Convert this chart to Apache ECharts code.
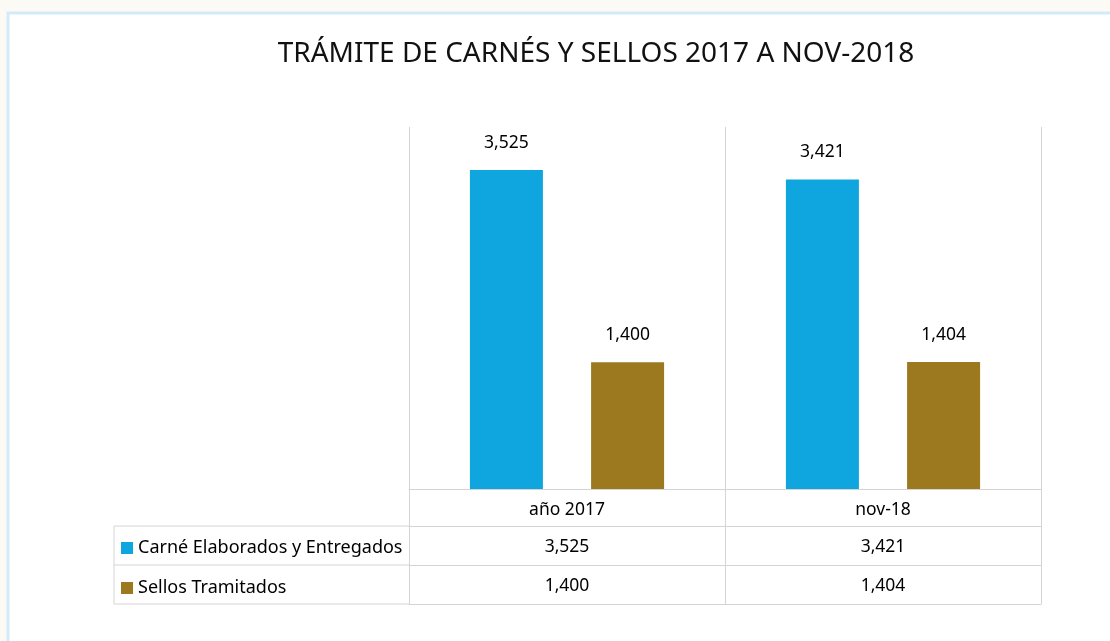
<!DOCTYPE html>
<html lang="es">
<head>
<meta charset="utf-8">
<script src="https://cdn.jsdelivr.net/npm/echarts@6/dist/echarts.min.js"></script>
<style>
  html, body { margin: 0; padding: 0; background: #fbfaf5; }
  #chart { width: 1110px; height: 641px; }
</style>
</head>
<body>
<div id="chart"></div>
<script>
// datos
const categories = ['año 2017', 'nov-18'];
const seriesNames = ['Carné Elaborados y Entregados', 'Sellos Tramitados'];
const carne = [3525, 3421];
const sellos = [1400, 1404];
const colors = ['#0fa5de', '#9c781f'];

const FONT = "'Noto Sans', 'DejaVu Sans', sans-serif";
const LINE = '#d4d4d4';
const GRID_L = 409, GRID_R = 1041, GRID_T = 127, AXIS_Y = 489;
const TABLE_L = 114;
const rows = [37, 39, 39];   // alto de filas de la tabla

const fmt = v => v.toLocaleString('en-US');

let chart = echarts.init(document.getElementById('chart'));

// ejes x apilados = filas de la tabla de datos
function tableAxis(offset, tickLen, values) {
    return {
        type: 'category', gridIndex: 0, position: 'bottom', offset: offset,
        data: categories,
        axisLine: {show: true, lineStyle: {color: LINE, width: 1}},
        axisTick: {show: !!tickLen, length: tickLen, lineStyle: {color: LINE}},
        axisLabel: {
            show: !!values, margin: 12, color: '#000', fontSize: 17.5, fontFamily: FONT,
            formatter: (v, i) => values ? fmt(values[i]) : ''
        },
        splitLine: {show: false}
    };
}

const yTop = AXIS_Y + rows[0];
const y2 = yTop + rows[1];
const y3 = y2 + rows[2];

chart.setOption({
    backgroundColor: '#fbfaf5',
    animation: false,
    title: {
        text: 'TRÁMITE DE CARNÉS Y SELLOS 2017 A NOV-2018',
        left: 591, top: 35, textAlign: 'center',
        textStyle: {fontFamily: FONT, fontWeight: 'normal', fontSize: 28, color: '#111'}
    },
    graphic: [
        {type: 'rect', shape: {x: 8, y: 13, width: 1200, height: 700},
         style: {fill: '#fff', stroke: '#d3ebf8', lineWidth: 3}, z: -10},
        {type: 'line', shape: {x1: TABLE_L, y1: yTop, x2: GRID_L, y2: yTop}, style: {stroke: LINE}},
        {type: 'line', shape: {x1: TABLE_L, y1: y2, x2: GRID_L, y2: y2}, style: {stroke: LINE}},
        {type: 'line', shape: {x1: TABLE_L, y1: y3, x2: GRID_L, y2: y3}, style: {stroke: LINE}},
        {type: 'line', shape: {x1: TABLE_L, y1: yTop, x2: TABLE_L, y2: y3}, style: {stroke: LINE}}
    ],
    legend: {
        orient: 'vertical', left: 116, top: yTop + 8,
        itemWidth: 12, itemHeight: 12, itemGap: 22, icon: 'rect',
        data: seriesNames,
        textStyle: {fontFamily: FONT, fontSize: 18, color: '#000'}
    },
    grid: {left: GRID_L, right: 1110 - GRID_R, top: GRID_T, bottom: 641 - AXIS_Y},
    xAxis: [
        {
            type: 'category', data: categories,
            axisLine: {lineStyle: {color: LINE, width: 1}},
            axisTick: {show: true, length: rows[0], lineStyle: {color: LINE}},
            axisLabel: {margin: 12, color: '#000', fontSize: 17.5, fontFamily: FONT},
            splitLine: {show: true, lineStyle: {color: LINE}}
        },
        tableAxis(rows[0], rows[1], carne),
        tableAxis(rows[0] + rows[1], rows[2], sellos),
        tableAxis(rows[0] + rows[1] + rows[2], 0, null)
    ],
    yAxis: {type: 'value', min: 0, max: 4000, show: false, splitLine: {show: false}},
    series: [
        {
            name: seriesNames[0], type: 'bar', data: carne, xAxisIndex: 0,
            barWidth: 73, barGap: '66%', itemStyle: {color: colors[0]},
            label: {show: true, position: 'top', distance: 18, color: '#000',
                    fontSize: 17.5, fontFamily: FONT, formatter: p => fmt(p.value)}
        },
        {
            name: seriesNames[1], type: 'bar', data: sellos, xAxisIndex: 0,
            barWidth: 73, barGap: '66%', itemStyle: {color: colors[1]},
            label: {show: true, position: 'top', distance: 18, color: '#000',
                    fontSize: 17.5, fontFamily: FONT, formatter: p => fmt(p.value)}
        }
    ]
});
</script>
</body>
</html>
